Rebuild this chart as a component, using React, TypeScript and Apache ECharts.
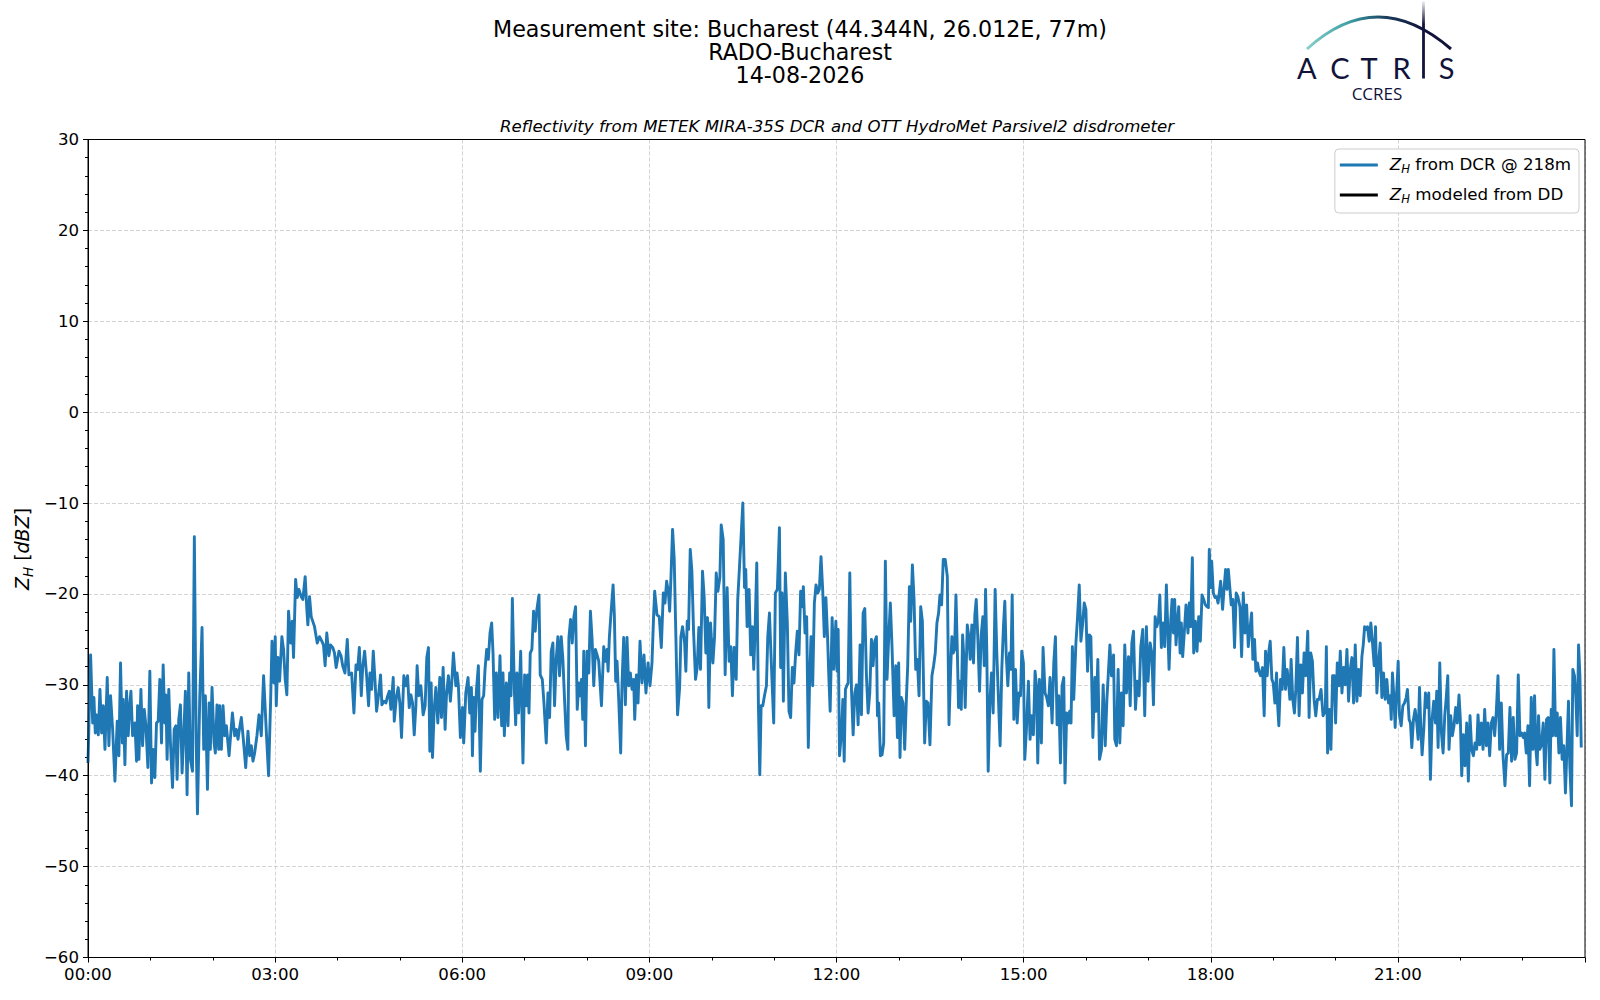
import React, { useEffect, useRef } from "react";
import * as echarts from "echarts";

// ---- data: [minutes since 00:00, Z_H (dBZ)] ----
const seg0 = [[0,-38.6],[2.5,-26.7],[4.5,-34.2],[5.7,-31.4],[7,-35.3],[8.3,-33.3],[9.9,-35.5],[11.5,-30.5],[13.1,-35.3],[14.7,-32.3],[16.3,-37.1],[18.5,-29.2],[20.1,-36.7],[21.7,-31.2],[23.7,-34.9],[25.9,-40.6],[28.1,-34.0],[29.7,-37.8],[31.3,-27.6],[33,-36.4],[33.9,-31.6],[35.5,-38.8],[37.1,-30.7],[38.7,-35.6],[40.3,-32.0],[41.3,-30.7],[42.9,-35.6],[45.1,-34.2],[46.7,-38.4],[47.7,-32.3],[49,-38.2],[50.9,-30.5],[52.5,-36.7],[54.1,-32.7],[55.7,-34.5],[57.6,-39.1],[59.5,-28.5],[61.1,-40.8],[62.7,-37.1],[64.3,-40.2],[65.9,-34.2],[67.5,-34.0],[69.1,-29.4],[70.7,-36.4],[72.3,-27.8],[73.9,-34.2],[74.9,-31.1],[76.1,-38.2],[77.7,-30.5],[79.3,-36.4],[81.3,-41.3],[82.9,-34.9],[84.5,-34.5],[85.7,-40.4],[87.3,-33.8],[88.9,-32.2],[90.5,-39.7],[92.1,-35.5],[93.7,-30.7],[95.3,-42.1],[96.9,-28.7],[98.5,-38.2],[100.5,-39.5],[102.3,-13.7],[104.1,-36.4],[105.3,-44.2],[107.5,-31.4],[109.7,-23.7],[111.3,-37.1],[112.9,-31.2],[114.9,-41.5],[116.5,-32.0],[117.7,-37.1],[119.3,-30.3],[121.3,-36.4],[122.5,-37.5],[124.1,-32.2],[125.7,-37.1],[126.7,-32.3],[128.3,-37.1],[129.9,-32.3],[131.5,-35.6],[133.1,-34.5],[135.7,-37.8],[138.9,-33.1],[141.1,-35.6],[142.7,-34.9],[144.3,-36.0],[145.9,-34.7],[147.5,-33.6],[149.1,-35.6],[151.7,-39.1],[153.9,-35.1],[155.5,-37.8],[157.1,-36.7],[158.7,-38.4],[160.3,-37.5],[162.5,-35.6],[164.5,-33.3],[166.7,-35.6],[168.9,-29.0],[171.5,-35.1],[173.7,-40.0],[175.7,-31.6],[177,-25.2],[178.9,-29.8],[180.1,-24.7],[181.1,-32.3],[182.7,-27.0],[184.3,-29.6],[186.5,-24.7],[188.1,-26.1],[189.7,-29.4],[191.3,-31.1],[192.9,-21.9],[194.9,-25.4],[196.5,-23.0],[197.7,-27.0],[199.7,-18.4],[201.3,-20.4],[202.9,-19.5],[205.1,-20.3],[206.7,-20.6],[208.9,-18.1],[210.5,-21.7],[211.5,-23.4],[213.1,-20.3],[214.7,-22.5],[217.9,-23.6],[220.5,-25.4],[222.7,-24.7],[224.9,-25.2],[226.5,-25.6],[228.1,-27.9],[229.7,-24.3],[231.7,-26.8],[233.3,-25.6],[235.5,-25.9],[237.1,-26.5],[238.7,-28.1]];

const seg1 = [[241.4,-26.3],[243.4,-26.8],[245,-27.9],[247.2,-28.7],[249.4,-25.0],[251,-28.9],[253.6,-28.7],[255.8,-33.1],[257.8,-27.8],[259.4,-28.3],[261,-25.9],[262.9,-31.2],[264.2,-28.1],[266.1,-26.3],[268,-29.0],[269.9,-32.3],[271.2,-28.7],[272.8,-30.5],[274.4,-26.3],[276,-29.4],[277.6,-32.9],[279.5,-31.1],[281.4,-28.9],[282.7,-32.2],[284.6,-31.8],[286.6,-32.0],[287.8,-31.4],[289.8,-30.7],[291.4,-32.7],[293.6,-29.2],[294.6,-34.0],[296.8,-31.2],[298.4,-30.3],[300,-32.0],[301.6,-35.8],[303.8,-29.0],[305.8,-30.1],[307.4,-29.0],[309,-32.5],[310.6,-31.1],[312.2,-32.0],[313.8,-35.5],[315.4,-32.3],[316.6,-27.9],[318.2,-31.2],[320.2,-30.1],[322.4,-33.3],[324.3,-32.3],[325.9,-27.0],[327.5,-25.9],[328.8,-37.3],[330.1,-29.8],[331.4,-38.0],[333,-32.7],[334.6,-30.3],[336.5,-34.2],[338.4,-29.2],[340,-33.6],[341.6,-28.1],[343.5,-34.9],[344.8,-31.2],[346.7,-29.0],[348.6,-31.8],[349.9,-29.8],[351.5,-26.5],[353.8,-30.1],[355,-28.7],[356.3,-30.1],[358.2,-35.8],[360.2,-32.5],[361.4,-36.4],[363.4,-30.9],[365.6,-29.2],[367.2,-33.1],[368.8,-30.3],[369.8,-37.8],[371,-31.4],[372.3,-35.1],[373.6,-30.7],[375.5,-27.9],[377.4,-39.5],[379,-31.6],[380.6,-31.2],[381.9,-28.3],[383.5,-26.1],[385.1,-27.2],[386.7,-24.3],[388.3,-23.2],[389.6,-26.5],[391.2,-33.8],[392.8,-28.7],[394.4,-33.6],[396.3,-26.8],[397.9,-34.5],[399.2,-28.7],[400.5,-35.6],[402.4,-29.8],[404,-34.5],[405.6,-28.7],[406.9,-31.2],[408.2,-20.5],[410.1,-30.5],[411.4,-34.4],[412.6,-28.7],[414.2,-33.1],[416.2,-26.3],[418.4,-38.6],[420,-28.9],[421.6,-32.3],[422.9,-28.9],[424.2,-33.1],[425.4,-26.5],[427,-26.1],[428.6,-21.9],[430.2,-24.1],[431.8,-21.7],[433.8,-20.1],[435,-28.9],[437,-29.4],[438.6,-32.0],[440.8,-36.4],[442.4,-30.9],[444,-33.6],[445.6,-26.3],[447.2,-25.4],[448.8,-32.3],[450.4,-27.2],[452,-24.7],[453.6,-29.0],[455.2,-24.7],[456.8,-27.2],[458.4,-31.6],[460,-35.6],[461.6,-37.1],[462.6,-24.8],[464.2,-22.8],[465.8,-25.4],[467.4,-22.5],[469,-21.4],[470.6,-32.7],[472.2,-29.8]];

const seg2 = [[473.4,-31.2],[474.7,-29.4],[475.9,-33.8],[476.9,-26.3],[478.5,-36.7],[480.1,-26.3],[481.7,-28.7],[483.3,-21.9],[484.9,-25.0],[486.5,-30.1],[488.1,-26.1],[489.7,-26.7],[491.3,-27.4],[493.9,-32.3],[496.1,-25.8],[497.7,-27.4],[499.3,-26.1],[500.3,-28.5],[501.5,-24.8],[503.1,-22.1],[505.1,-19.0],[506.3,-22.3],[507.6,-29.6],[508.9,-27.4],[510.5,-31.6],[512.4,-37.5],[513.7,-29.8],[515.3,-24.8],[516.9,-32.2],[518.5,-24.8],[520.1,-30.1],[521.7,-28.7],[523.3,-30.5],[524.9,-29.4],[525.9,-33.8],[527.5,-28.9],[529.1,-32.0],[531,-25.2],[532.9,-29.8],[534.8,-26.7],[536.7,-30.9],[538.7,-27.6],[540.6,-30.1],[542.5,-27.6],[544.1,-22.3],[545.1,-19.7],[547.3,-22.3],[549.5,-22.5],[551.5,-25.9],[553.4,-19.9],[555,-21.0],[556.6,-18.6],[558.2,-19.7],[559.5,-21.9],[560.7,-18.4],[562.3,-12.9],[563.9,-16.2],[565.5,-24.7],[567.1,-33.3],[569.1,-30.3],[570.3,-24.7],[571.9,-23.6],[573.9,-25.4],[575.1,-28.5],[576.4,-23.0],[577.7,-23.9],[579.3,-15.1],[580.9,-17.5],[582.5,-24.1],[584.4,-29.4],[586,-28.1],[587.6,-23.7],[589.2,-28.3],[591.1,-17.5],[592.7,-20.3],[594.3,-26.5],[595.9,-22.6],[597.2,-32.5],[598.8,-23.2],[601.1,-27.6],[602.7,-24.7],[604.3,-17.7],[605.9,-19.7],[607.8,-18.2],[609.1,-12.4],[611,-14.0],[612.9,-28.9],[614.8,-19.3],[616.7,-27.4],[618.3,-25.8],[619.9,-31.2],[621.5,-25.9],[623.5,-29.4],[625,-20.6],[626.7,-17.0],[628.3,-13.5],[629.9,-10.0],[631.5,-19.3],[632.7,-17.3],[634,-23.6],[635.9,-19.5],[637.5,-26.7],[639.1,-23.6],[640.4,-28.3],[641.7,-23.9],[643.3,-16.6],[644.9,-32.3],[646.2,-39.9],[647.5,-32.3],[649.1,-32.3],[650.7,-31.2],[652.6,-30.1],[653.9,-24.7],[655.5,-22.1],[657.1,-27.0],[658.3,-30.5],[659.6,-34.2],[661.2,-19.9],[663.1,-19.5],[665.1,-12.7],[666.3,-28.1],[667.6,-19.9],[668.9,-31.8],[670.8,-17.7],[672.7,-23.2],[674.3,-32.9],[675.9,-33.6],[677.5,-28.1],[679.1,-29.8],[680.7,-26.5],[682.3,-24.1],[683.9,-26.7],[685.5,-19.7],[687.1,-21.4],[688.1,-19.2],[689.7,-24.3],[691.3,-22.5],[692.9,-36.9],[694.2,-29.2],[695.5,-24.7],[697.1,-30.1],[698.7,-21.0],[700.3,-19.0],[701.9,-19.9],[703.5,-19.5],[705.1,-15.9],[706.7,-19.5],[708.3,-24.7]];

const seg3 = [[709.8,-20.4],[711.4,-24.7],[712.6,-29.0],[713.9,-32.9],[715.8,-22.6],[717.4,-28.3],[719.4,-23.0],[720.6,-28.5],[721.6,-23.9],[722.9,-37.8],[724.8,-35.3],[726.1,-31.6],[727.4,-38.4],[728.6,-30.5],[729.9,-30.1],[731.2,-29.8],[732.8,-17.7],[734.4,-30.5],[736,-35.5],[737.6,-30.9],[739.2,-30.0],[740.8,-34.4],[742.7,-25.6],[744,-33.3],[745.6,-22.1],[747.2,-21.6],[748.8,-29.0],[750.4,-33.1],[752,-30.9],[753.6,-25.0],[755.2,-27.9],[756.8,-25.2],[758.4,-24.7],[759.4,-33.4],[760.6,-32.0],[762.2,-37.8],[763.8,-37.7],[765.4,-36.4],[767,-16.4],[768.6,-29.4],[770.2,-24.8],[771.8,-21.0],[773.4,-25.8],[775.4,-33.4],[777,-27.9],[778.6,-35.8],[779.8,-27.6],[781.1,-38.0],[782.4,-31.4],[784,-32.0],[785.6,-37.1],[787.2,-31.6],[788.5,-27.9],[790.1,-19.2],[791.4,-23.0],[793,-16.8],[794.6,-20.6],[796.2,-28.3],[797.8,-27.2],[799.4,-31.2],[801,-21.4],[802.6,-23.0],[804.8,-36.4],[806.4,-31.8],[808,-32.0],[809.9,-36.6],[811.8,-29.0],[813.4,-27.9],[815,-26.5],[816.6,-23.2],[818.2,-22.1],[819.5,-20.1],[821.1,-21.2],[822.7,-16.2],[824.6,-16.2],[826.6,-18.1],[828.2,-34.4],[829.8,-28.3],[831,-24.7],[832.3,-26.5],[833.6,-26.1],[834.9,-20.1],[836.2,-26.1],[837.4,-32.5],[838.7,-29.6],[840,-32.7],[841.3,-24.5],[842.6,-27.2],[843.8,-32.5],[845.8,-23.4],[847.4,-24.8],[848.6,-27.2],[850.2,-23.4],[851.8,-27.6],[853.1,-22.3],[854.4,-20.6],[856,-25.0],[857.6,-30.7],[859.2,-24.5],[860.8,-22.5],[862.1,-27.9],[863.4,-19.5],[864.6,-26.5],[865.9,-39.5],[867.5,-32.0],[869.1,-28.7],[870.7,-33.1],[872.6,-19.5],[874.2,-26.5],[875.8,-31.6],[877.4,-36.7],[879,-28.3],[880.6,-23.6],[881.9,-20.8],[883.2,-26.5],[884.8,-30.1],[886.4,-26.5],[887.7,-28.3],[889,-20.1],[890.6,-33.8],[892.2,-28.3],[893.8,-34.2],[895.4,-30.9],[897,-31.2],[898.2,-26.3],[899.8,-27.6],[901.1,-38.2],[902.7,-34.9],[904.6,-29.6],[906.2,-36.0],[907.8,-33.4],[909.4,-35.5],[911,-28.5],[912.3,-30.1],[913.6,-38.6],[915.2,-29.4],[917.1,-36.4],[918.7,-25.9],[920.6,-30.9],[922.2,-31.4],[923.8,-32.3],[925.4,-29.2],[927.4,-34.2],[929,-27.6],[930.6,-24.7],[932.2,-34.4],[933.8,-31.2],[935.4,-38.6],[937,-30.1],[938.6,-29.2],[939.8,-40.8],[941.4,-33.1],[943,-34.2],[944.3,-32.9],[945.6,-34.2],[946.9,-25.8],[948.2,-31.6]];

const seg4 = [[950.3,-25.4],[951.9,-22.5],[953.5,-19.0],[955.1,-25.2],[956.7,-23.4],[958.3,-21.0],[959.9,-21.7],[961.5,-28.5],[963.1,-24.5],[964.7,-24.7],[966.6,-35.8],[968.5,-29.2],[969.8,-32.9],[971.4,-27.2],[973,-38.2],[974.9,-37.1],[976.5,-30.0],[978.5,-36.7],[980.1,-31.6],[981.7,-28.3],[983,-25.6],[984.5,-29.0],[986.5,-26.7],[987.7,-36.0],[989.3,-36.7],[990.9,-28.3],[992.5,-36.4],[994.1,-30.9],[995.7,-34.5],[997.3,-25.6],[998.9,-30.9],[1000.9,-26.9],[1002.5,-32.3],[1004.1,-25.4],[1005.7,-24.1],[1007.6,-32.7],[1009.2,-29.6],[1011.1,-31.2],[1012.7,-25.8],[1014.6,-23.9],[1016.5,-33.4],[1018.1,-23.6],[1019.7,-29.6],[1021.7,-25.4],[1023.3,-26.5],[1024.9,-32.2],[1026.5,-22.5],[1028.1,-23.6],[1029.7,-22.9],[1031,-20.1],[1032.5,-25.9],[1034.1,-23.2],[1035.7,-25.8],[1037.3,-19.0],[1038.3,-22.5],[1039.9,-28.3],[1041.5,-23.0],[1042.8,-20.6],[1044.1,-24.3],[1045.3,-20.6],[1046.6,-25.6],[1047.9,-23.2],[1049.2,-21.4],[1050.5,-26.5],[1051.7,-23.2],[1053,-26.9],[1054.3,-24.7],[1056.2,-21.2],[1058.1,-24.3],[1059.4,-21.0],[1060.7,-23.6],[1062.3,-16.0],[1063.6,-26.5],[1065.2,-23.0],[1066.8,-26.3],[1068.4,-22.5],[1070,-25.2],[1071.6,-20.1],[1073.2,-20.6],[1074.8,-21.2],[1076.4,-21.4],[1077.7,-21.5],[1078.6,-15.1],[1079.9,-19.3],[1080.9,-16.4],[1082.5,-19.9],[1084.1,-20.4],[1085.7,-20.3],[1087,-21.0],[1088.2,-19.9],[1089.5,-18.6],[1091.4,-21.7],[1093,-19.1],[1094.3,-17.3],[1095.6,-19.5],[1096.9,-17.3],[1098.5,-19.5],[1099.7,-21.2],[1101.3,-20.6],[1102.9,-25.9],[1104.5,-19.9],[1106.1,-20.3],[1108.1,-21.4],[1109.7,-26.9],[1111.3,-19.9],[1112.9,-24.3],[1114.5,-21.2],[1116.1,-25.8],[1117.7,-23.9],[1119.3,-22.1],[1120.5,-27.2],[1122.1,-25.0],[1123.4,-28.5],[1125,-27.6],[1126.3,-28.5],[1127.9,-29.0],[1129.8,-28.1],[1131.4,-33.4],[1132.7,-26.3],[1134.3,-29.0],[1135.9,-26.3],[1137.2,-25.2],[1138.8,-29.4],[1140.1,-29.8],[1141.7,-32.0],[1143.3,-28.7],[1144.2,-32.0],[1145.5,-34.5],[1147.1,-29.4],[1148.7,-30.5],[1150.3,-25.9],[1151.9,-30.5],[1153.5,-28.3],[1155.1,-30.1],[1156.1,-31.6],[1157.3,-27.2],[1158.9,-31.6],[1160.5,-33.1],[1161.8,-30.5],[1163.4,-24.8],[1165,-33.4],[1166.6,-27.8],[1168.2,-30.9],[1169.8,-26.5],[1171.4,-29.0],[1173.3,-24.1],[1174.6,-33.6],[1176.2,-26.5],[1177.8,-27.4],[1179.4,-31.6],[1181,-33.4],[1182.6,-31.6],[1184.2,-31.6],[1186.1,-30.5],[1188,-33.4]];

const seg5 = [[1190.2,-32.9],[1191.2,-25.8],[1192.4,-37.5],[1194,-32.7],[1195.6,-37.1],[1197.2,-29.0],[1198.8,-29.0],[1200.1,-34.2],[1201.7,-27.6],[1203.3,-30.1],[1204.6,-26.3],[1206.2,-30.9],[1207.8,-28.1],[1209.4,-30.0],[1211,-26.1],[1212.6,-31.8],[1214.2,-28.3],[1215.8,-27.0],[1217.4,-32.0],[1219,-25.6],[1220.6,-31.8],[1222.2,-28.3],[1223.8,-31.2],[1225.4,-26.9],[1226.7,-25.6],[1228,-23.6],[1229.2,-23.9],[1230.8,-23.6],[1232.4,-25.2],[1234,-23.2],[1235.6,-25.4],[1237.2,-27.9],[1238.5,-23.6],[1239.8,-30.9],[1241.4,-27.6],[1243,-25.4],[1244.6,-31.4],[1246.2,-28.7],[1247.8,-31.6],[1249.4,-29.4],[1251,-32.0],[1252.6,-31.2],[1253.6,-33.8],[1254.8,-28.7],[1256.1,-31.2],[1257.4,-34.7],[1258.7,-31.1],[1260.3,-27.4],[1261.5,-33.3],[1263.2,-34.5],[1264.8,-32.3],[1266.4,-32.0],[1268,-31.4],[1269.2,-30.5],[1270.8,-33.8],[1272.1,-34.2],[1273.4,-36.9],[1275,-33.8],[1276.6,-32.7],[1278.2,-34.2],[1279.5,-36.0],[1280.8,-30.3],[1282,-34.5],[1283.3,-37.7],[1284.9,-34.9],[1286.5,-30.9],[1288.4,-32.5],[1289.7,-30.9],[1291.3,-40.4],[1292.9,-33.8],[1294.5,-31.8],[1296.1,-34.2],[1297.4,-30.7],[1298.7,-36.9],[1300.3,-27.6],[1301.9,-35.3],[1303.5,-37.5],[1305.1,-33.4],[1306.4,-31.6],[1308,-29.0],[1309.2,-37.1],[1310.8,-33.4],[1312.4,-35.6],[1314,-34.5],[1315.6,-32.5],[1317.2,-34.2],[1318.8,-31.1],[1320.1,-33.8],[1321.4,-40.0],[1323,-35.5],[1324.6,-38.9],[1326.2,-34.2],[1327.8,-40.6],[1329.4,-33.4],[1331,-37.1],[1332.6,-37.8],[1334.2,-36.4],[1335.8,-37.1],[1337.1,-33.3],[1338.7,-36.6],[1340.3,-34.2],[1341.9,-37.1],[1343.5,-32.7],[1345.1,-36.7],[1346.7,-34.2],[1348.3,-37.8],[1349.9,-34.2],[1351.5,-33.6],[1353.1,-35.6],[1354.7,-32.9],[1356.3,-29.0],[1357.9,-37.1],[1359.5,-32.0],[1361.1,-37.7],[1363,-41.1],[1364.6,-37.7],[1366.2,-37.5],[1367.8,-32.5],[1369.4,-38.4],[1371,-33.6],[1372.6,-38.2],[1374.2,-37.5],[1375.8,-28.9],[1377.4,-35.6],[1379,-35.3],[1380.6,-35.8],[1381.9,-35.3],[1383.5,-37.5],[1385.1,-34.5],[1386.7,-41.1],[1388.3,-31.4],[1389.9,-37.1],[1391.5,-31.2],[1392.8,-37.1],[1394,-38.8],[1395.3,-33.4],[1396.6,-37.1],[1398.2,-36.6],[1399.8,-34.2],[1401.4,-40.4],[1403,-33.8],[1404.6,-33.6],[1406.2,-40.8],[1407.5,-32.7],[1408.8,-35.6],[1410.1,-26.1],[1411.7,-35.6],[1413.3,-33.1],[1414.9,-37.5],[1416.4,-33.6],[1418,-38.2],[1419.6,-36.7],[1421.2,-41.9],[1422.8,-36.4],[1424.1,-31.8],[1425.4,-38.9],[1427,-43.3],[1428.3,-28.3],[1429.9,-29.0],[1431.2,-31.4],[1432.5,-35.6],[1433.8,-25.6],[1435.1,-29.0],[1436.4,-36.9]];

const dcrSeries = [...seg0, ...seg1, ...seg2, ...seg3, ...seg4, ...seg5];
const ddSeries: number[][] = [];

const xMin = 0;
const xMax = 1440;
const xStep = 180;
const yMin = -60;
const yMax = 30;
const yStep = 10;

const NAME_DCR = "ZH from DCR @ 218m";
const NAME_DD = "ZH modeled from DD";
const titleLines = ["Measurement site: Bucharest (44.344N, 26.012E, 77m)", "RADO-Bucharest", "14-08-2026"];
const subTitle = "Reflectivity from METEK MIRA-35S DCR and OTT HydroMet Parsivel2 disdrometer";
const logoLetters = ["A", "C", "T", "R", "S"];

const FONT = "DejaVu Sans";
const NAVY = "#11133a";

const GRID_L = 88;
const GRID_R = 1585;
const GRID_T = 139.5;
const GRID_B = 957.5;

const pad2 = (n: number) => (n < 10 ? "0" + n : "" + n);

export default function App() {
  const ref = useRef<HTMLDivElement>(null);

  useEffect(() => {
    if (!ref.current) return;
    const chart = echarts.init(ref.current, null, { renderer: "svg" });

    const legendRich = {
      z: { fontFamily: FONT, fontStyle: "italic", fontSize: 16.7, color: "#000", verticalAlign: "bottom", padding: [0, 0, 3, 0] },
      h: { fontFamily: FONT, fontStyle: "italic", fontSize: 11.7, color: "#000", verticalAlign: "bottom" },
      t: { fontFamily: FONT, fontSize: 16.7, color: "#000", verticalAlign: "bottom", padding: [0, 0, 3, 0] },
    };

    const letterX = [1306.7, 1340, 1369, 1401.7, 1446.7];

    const graphic: any[] = [];
    titleLines.forEach((t, i) => {
      graphic.push({
        type: "text", x: 800, y: [28.8, 52.3, 75.3][i], silent: true,
        style: { text: t, fontFamily: FONT, fontSize: 22.2, lineHeight: 22, fill: "#000", align: "center", verticalAlign: "middle", textAlign: "center", textVerticalAlign: "middle" },
      });
    });
    graphic.push({
      type: "text", x: 837, y: 126.5, silent: true,
      style: { text: subTitle, fontFamily: FONT, fontStyle: "italic", fontSize: 16.6, fill: "#000", align: "center", verticalAlign: "middle", textAlign: "center", textVerticalAlign: "middle" },
    });
    // y-axis label
    graphic.push({
      type: "text", x: 23.5, y: 549, rotation: Math.PI / 2, silent: true,
      style: {
        text: "{z|Z}{h|H}{t| [}{z|dBZ}{t|]}",
        align: "center", verticalAlign: "middle", textAlign: "center", textVerticalAlign: "middle",
        rich: {
          z: { fontFamily: FONT, fontStyle: "italic", fontSize: 19, fill: "#000", verticalAlign: "bottom", padding: [0, 0, 4, 0] },
          h: { fontFamily: FONT, fontStyle: "italic", fontSize: 13.5, fill: "#000", verticalAlign: "bottom" },
          t: { fontFamily: FONT, fontSize: 19, fill: "#000", verticalAlign: "bottom", padding: [0, 0, 4, 0] },
        },
      },
    });
    // solid frame on top of the grid lines
    graphic.push({
      type: "rect", silent: true, z: 100,
      shape: { x: GRID_L, y: GRID_T, width: GRID_R - GRID_L, height: GRID_B - GRID_T },
      style: { fill: "none", stroke: "#000", lineWidth: 1 },
    });
    // logo
    graphic.push({
      type: "bezierCurve", silent: true,
      shape: { x1: 1307, y1: 49, cpx1: 1377, cpy1: -15, x2: 1451, y2: 49 },
      style: {
        fill: "none", lineWidth: 3,
        stroke: new echarts.graphic.LinearGradient(1307, 0, 1451, 0, [
          { offset: 0, color: "#86cfc7" },
          { offset: 0.3, color: "#3c9ea4" },
          { offset: 0.55, color: "#1a3d5c" },
          { offset: 0.8, color: NAVY },
          { offset: 1, color: NAVY },
        ], true),
      },
    });
    graphic.push({
      type: "line", silent: true,
      shape: { x1: 1423.5, y1: 1, x2: 1423.5, y2: 78.5 },
      style: {
        lineWidth: 2.8,
        stroke: new echarts.graphic.LinearGradient(1423, 1, 1423, 78.5, [
          { offset: 0, color: "rgba(17,19,58,0.05)" },
          { offset: 0.3, color: NAVY },
          { offset: 1, color: NAVY },
        ], true),
      },
    });
    logoLetters.forEach((l, i) => {
      graphic.push({
        type: "text", x: letterX[i], y: 67.6, silent: true,
        style: { text: l, fontFamily: "Lato", fontSize: 29, lineHeight: 21, fill: NAVY, align: "center", verticalAlign: "middle", textAlign: "center", textVerticalAlign: "middle" },
      });
    });
    graphic.push({
      type: "text", x: 1377, y: 93.8, silent: true,
      style: { text: "CCRES", fontFamily: "Open Sans", fontSize: 17, lineHeight: 13, fill: NAVY, align: "center", verticalAlign: "middle", textAlign: "center", textVerticalAlign: "middle" },
    });

    const option: any = {
      animation: false,
      backgroundColor: "#ffffff",
      textStyle: { fontFamily: FONT },
      grid: {
        left: GRID_L, right: 1600 - GRID_R, top: GRID_T, bottom: 1000 - GRID_B,
        show: false,
      },
      xAxis: {
        type: "value", min: xMin, max: xMax, interval: xStep,
        axisLine: { show: true, onZero: false, lineStyle: { color: "#000", width: 1 } },
        axisTick: { show: true, length: 5, lineStyle: { color: "#000", width: 1 } },
        minorTick: { show: true, splitNumber: 3, length: 3, lineStyle: { color: "#000", width: 1 } },
        splitLine: { show: true, lineStyle: { color: "#d3d3d3", width: 1, type: [4, 2] } },
        minorSplitLine: { show: false },
        axisLabel: {
          color: "#000", fontFamily: FONT, fontSize: 16.6, margin: 8, showMaxLabel: false,
          formatter: (v: number) => pad2(Math.floor(v / 60) % 24) + ":" + pad2(Math.round(v % 60)),
        },
      },
      yAxis: {
        type: "value", min: yMin, max: yMax, interval: yStep,
        axisLine: { show: true, onZero: false, lineStyle: { color: "#000", width: 1 } },
        axisTick: { show: true, length: 5, lineStyle: { color: "#000", width: 1 } },
        minorTick: { show: true, splitNumber: 5, length: 3, lineStyle: { color: "#000", width: 1 } },
        splitLine: { show: true, lineStyle: { color: "#d3d3d3", width: 1, type: [4, 2] } },
        minorSplitLine: { show: false },
        axisLabel: {
          color: "#000", fontFamily: FONT, fontSize: 16.6, margin: 9,
          formatter: (v: number) => (v < 0 ? "\u2212" + Math.abs(v) : "" + v),
        },
      },
      legend: {
        data: [NAME_DCR, NAME_DD],
        orient: "vertical",
        right: 21, top: 149,
        icon: "rect", itemWidth: 38, itemHeight: 2.8, itemGap: 10,
        padding: [6, 8, 8, 5],
        borderColor: "#cccccc", borderWidth: 1, borderRadius: 4,
        backgroundColor: "rgba(255,255,255,0.85)",
        selectedMode: false,
        textStyle: { fontFamily: FONT, fontSize: 16.7, color: "#000", padding: [0, 0, 0, 7], rich: legendRich },
        formatter: (name: string) =>
          name === NAME_DCR ? "{z|Z}{h|H}{t| from DCR @ 218m}" : "{z|Z}{h|H}{t| modeled from DD}",
      },
      series: [
        {
          name: NAME_DCR, type: "line", data: dcrSeries, symbol: "none", showSymbol: false,
          lineStyle: { color: "#1f77b4", width: 2.9, join: "round" }, itemStyle: { color: "#1f77b4" },
          z: 3,
        },
        {
          name: NAME_DD, type: "line", data: ddSeries, symbol: "none", showSymbol: false,
          lineStyle: { color: "#000000", width: 2.9 }, itemStyle: { color: "#000000" },
        },
      ],
      graphic,
    };

    chart.setOption(option);
    return () => chart.dispose();
  }, []);

  return (
    <div
      ref={ref}
      style={{ position: "absolute", left: 0, top: 0, width: 1600, height: 1000, background: "#fff" }}
    />
  );
}
